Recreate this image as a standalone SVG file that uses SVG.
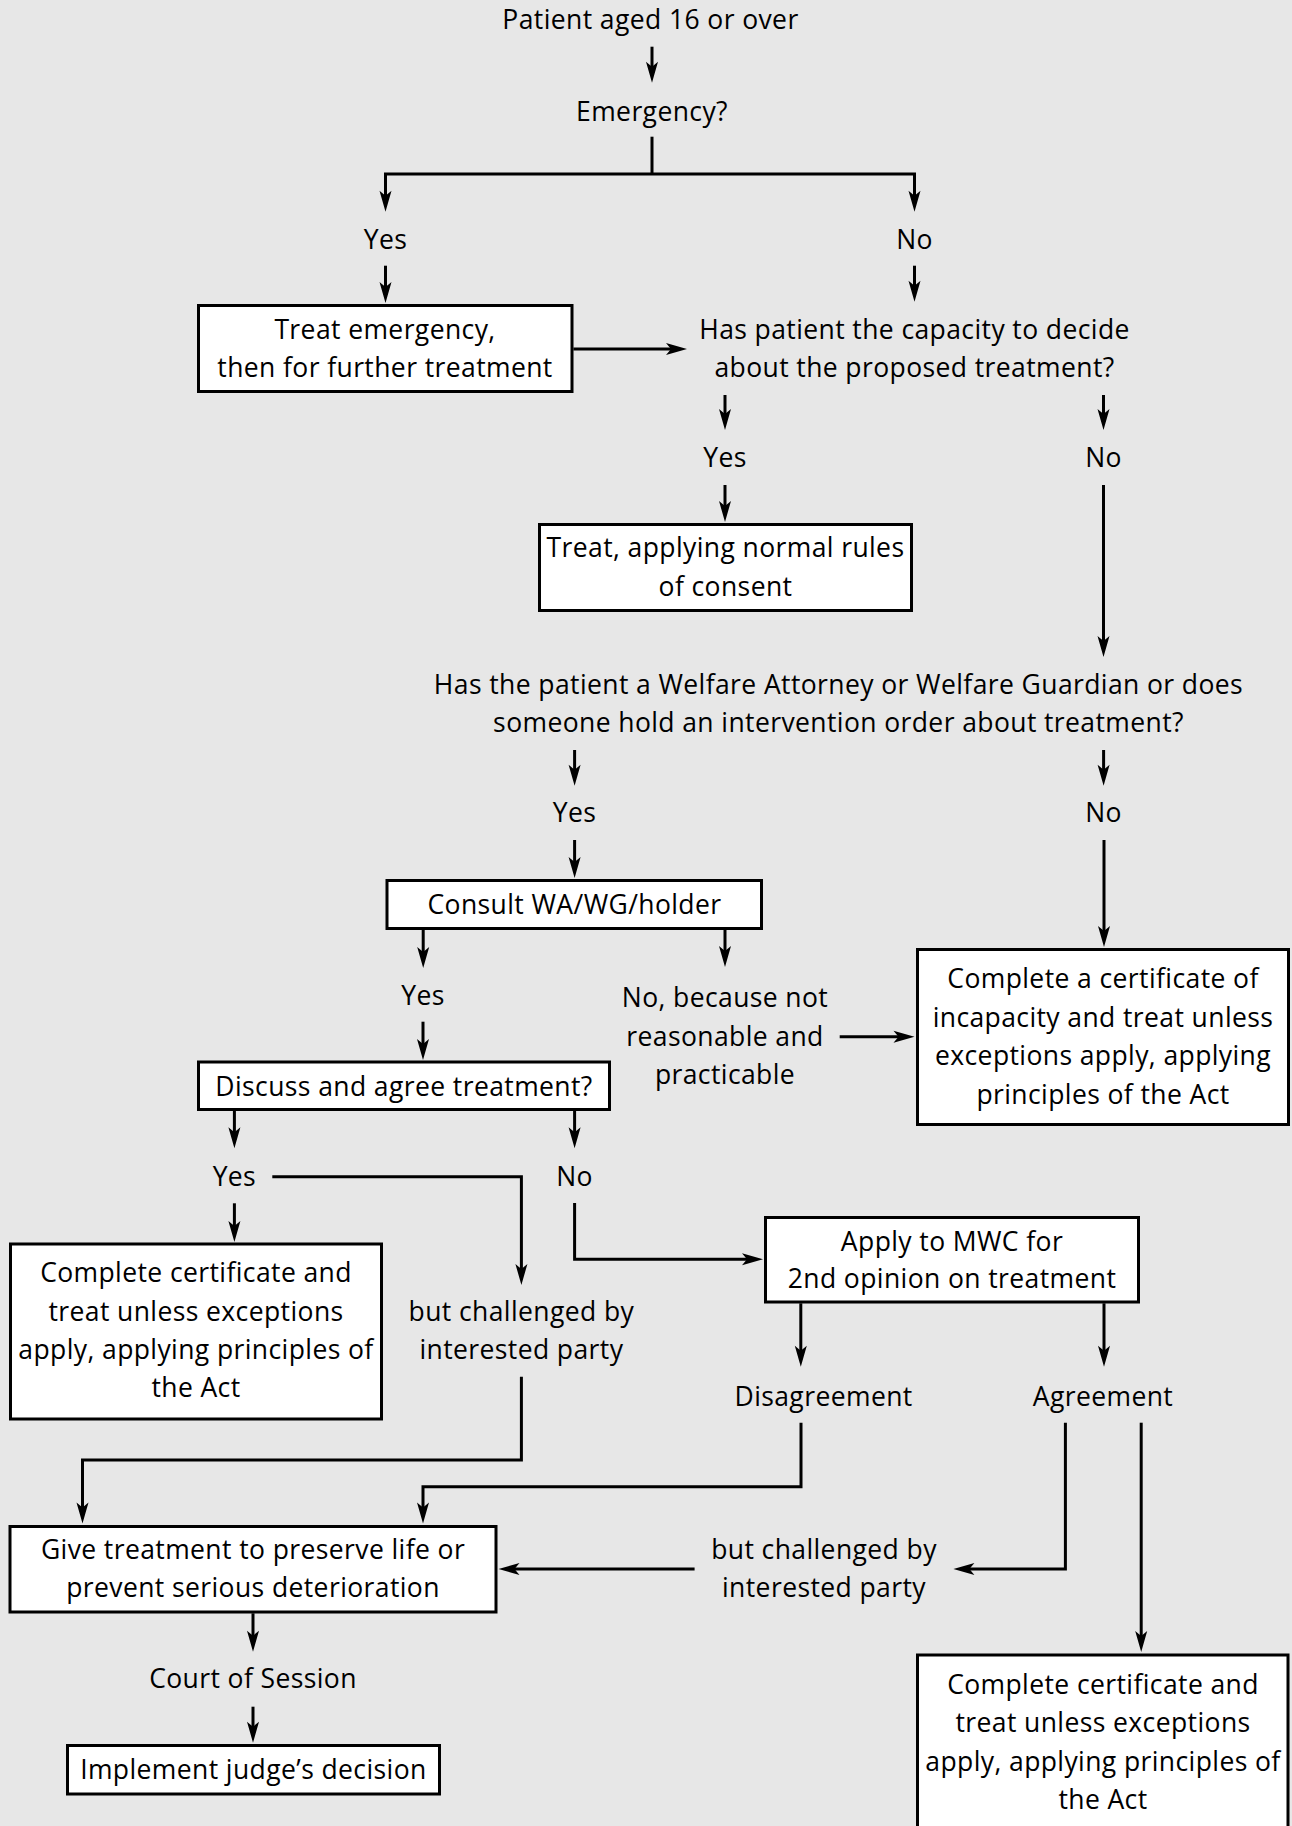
<svg xmlns="http://www.w3.org/2000/svg" width="1292" height="1826" viewBox="0 0 1292 1826">
<style>
text{font-family:"Open Sans","Noto Sans","Liberation Sans",sans-serif;font-size:26.5px;letter-spacing:0.4px;fill:#000;text-anchor:middle}
.box{fill:#fff;stroke:#000;stroke-width:3}
.ln{fill:none;stroke:#000;stroke-width:3}
.ar{fill:none;stroke:#000;stroke-width:3;marker-end:url(#ah)}
</style>
<defs>
<marker id="ah" viewBox="-22 -7 24 14" refX="-12" refY="0" markerWidth="24" markerHeight="14" markerUnits="userSpaceOnUse" orient="auto">
<path d="M0,0 L-21,-6 L-16,0 L-21,6 Z" fill="#000"/>
</marker>
</defs>
<rect x="0" y="0" width="1292" height="1826" fill="#e7e7e7"/>
<g id="connectors">
<path class="ar" d="M652,46.7 V70.7"/>
<path class="ln" d="M652,136.7 V174"/>
<path class="ar" d="M652,174 H385.5 V199.7"/>
<path class="ar" d="M652,174 H914.5 V199.7"/>
<path class="ar" d="M385.5,265.7 V291"/>
<path class="ar" d="M914.5,265.7 V289.7"/>
<path class="ar" d="M573.4,349 H675"/>
<path class="ar" d="M725,395 V418"/>
<path class="ar" d="M1103.5,395 V418"/>
<path class="ar" d="M725,485 V510"/>
<path class="ar" d="M1103.5,485 V645"/>
<path class="ar" d="M574.6,750 V773.7"/>
<path class="ar" d="M1103.6,750 V773.7"/>
<path class="ar" d="M574.6,840 V866"/>
<path class="ar" d="M1104,840 V935"/>
<path class="ar" d="M423.2,930 V956"/>
<path class="ar" d="M725,930 V955"/>
<path class="ar" d="M423,1021.7 V1048"/>
<path class="ar" d="M839.7,1036.7 H902.5"/>
<path class="ar" d="M234.4,1110.7 V1136.3"/>
<path class="ar" d="M574.6,1110.7 V1136.3"/>
<path class="ar" d="M272.3,1176.7 H521.4 V1273"/>
<path class="ar" d="M234.4,1203.3 V1230"/>
<path class="ar" d="M574.6,1203 V1259.3 H751"/>
<path class="ar" d="M800.8,1303.3 V1354.7"/>
<path class="ar" d="M1104,1303.3 V1354.7"/>
<path class="ar" d="M521.4,1376.7 V1460 H82.5 V1511.5"/>
<path class="ar" d="M801,1422.7 V1486.7 H423 V1511.5"/>
<path class="ar" d="M1065.4,1422.7 V1569 H965.4"/>
<path class="ar" d="M694.6,1569 H510.5"/>
<path class="ar" d="M1141.2,1422.7 V1640"/>
<path class="ar" d="M253,1613.3 V1639.7"/>
<path class="ar" d="M253,1706.7 V1730.7"/>
</g>
<g id="n-start"><text x="650.5" y="28.5">Patient aged 16 or over</text></g>
<g id="n-emergency"><text x="652" y="120.5">Emergency?</text></g>
<g id="n-yes1"><text x="385.5" y="248.5">Yes</text></g>
<g id="n-no1"><text x="914.5" y="248.5">No</text></g>
<g id="n-treat-emergency">
<rect class="box" x="198.5" y="305.5" width="373.5" height="86"/>
<text x="385" y="338.5">Treat emergency,</text>
<text x="385" y="376.5">then for further treatment</text>
</g>
<g id="n-capacity">
<text x="914.5" y="338.5">Has patient the capacity to decide</text>
<text x="914.5" y="377">about the proposed treatment?</text>
</g>
<g id="n-yes2"><text x="725" y="467">Yes</text></g>
<g id="n-no2"><text x="1103.5" y="467">No</text></g>
<g id="n-treat-normal">
<rect class="box" x="539.5" y="524.5" width="372" height="86"/>
<text x="725.5" y="557">Treat, applying normal rules</text>
<text x="725.5" y="595.5">of consent</text>
</g>
<g id="n-welfare">
<text x="838.5" y="693.5">Has the patient a Welfare Attorney or Welfare Guardian or does</text>
<text x="838.5" y="732">someone hold an intervention order about treatment?</text>
</g>
<g id="n-yes3"><text x="574.6" y="822">Yes</text></g>
<g id="n-no3"><text x="1103.6" y="822">No</text></g>
<g id="n-consult">
<rect class="box" x="387" y="880.5" width="374.5" height="48"/>
<text x="574.5" y="913.5">Consult WA/WG/holder</text>
</g>
<g id="n-cert-incapacity">
<rect class="box" x="917.5" y="949.5" width="371" height="175"/>
<text x="1103" y="987.8">Complete a certificate of</text>
<text x="1103" y="1026.5">incapacity and treat unless</text>
<text x="1103" y="1065.3">exceptions apply, applying</text>
<text x="1103" y="1103.8">principles of the Act</text>
</g>
<g id="n-yes4"><text x="423" y="1004.5">Yes</text></g>
<g id="n-no-because">
<text x="725" y="1007">No, because not</text>
<text x="725" y="1046">reasonable and</text>
<text x="725" y="1083.8">practicable</text>
</g>
<g id="n-discuss">
<rect class="box" x="198.5" y="1062" width="411" height="47.5"/>
<text x="404" y="1095.5">Discuss and agree treatment?</text>
</g>
<g id="n-yes5"><text x="234.4" y="1185.5">Yes</text></g>
<g id="n-no5"><text x="574.6" y="1185.5">No</text></g>
<g id="n-cert-left">
<rect class="box" x="10.5" y="1244" width="371" height="175"/>
<text x="196" y="1282.2">Complete certificate and</text>
<text x="196" y="1320.5">treat unless exceptions</text>
<text x="196" y="1358.8">apply, applying principles of</text>
<text x="196" y="1397.2">the Act</text>
</g>
<g id="n-challenged1">
<text x="521.4" y="1320.5">but challenged by</text>
<text x="521.4" y="1358.8">interested party</text>
</g>
<g id="n-mwc">
<rect class="box" x="765.5" y="1217.5" width="373" height="84.5"/>
<text x="952" y="1250.5">Apply to MWC for</text>
<text x="952" y="1288.2">2nd opinion on treatment</text>
</g>
<g id="n-disagreement"><text x="823.6" y="1405.5">Disagreement</text></g>
<g id="n-agreement"><text x="1103" y="1405.5">Agreement</text></g>
<g id="n-give-treatment">
<rect class="box" x="10" y="1526.5" width="486" height="85.5"/>
<text x="253" y="1558.8">Give treatment to preserve life or</text>
<text x="253" y="1597.2">prevent serious deterioration</text>
</g>
<g id="n-challenged2">
<text x="824" y="1558.5">but challenged by</text>
<text x="824" y="1597.2">interested party</text>
</g>
<g id="n-court"><text x="253" y="1687.8">Court of Session</text></g>
<g id="n-implement">
<rect class="box" x="67.5" y="1745.5" width="372" height="48.5"/>
<text x="253.4" y="1778.8">Implement judge’s decision</text>
</g>
<g id="n-cert-right">
<rect class="box" x="917.5" y="1655" width="370.5" height="200"/>
<text x="1103" y="1693.8">Complete certificate and</text>
<text x="1103" y="1732.2">treat unless exceptions</text>
<text x="1103" y="1770.5">apply, applying principles of</text>
<text x="1103" y="1808.8">the Act</text>
</g>
</svg>
